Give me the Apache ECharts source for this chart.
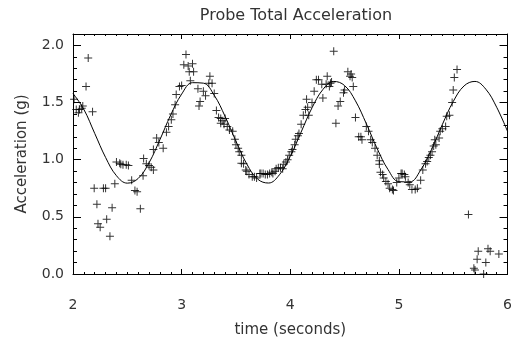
<!DOCTYPE html>
<html>
<head>
<meta charset="utf-8">
<title>Probe Total Acceleration</title>
<script src="https://cdn.jsdelivr.net/npm/echarts@6/dist/echarts.min.js"></script>
<style>
  html, body { margin: 0; padding: 0; background: #fff; }
  #chart { width: 515px; height: 347px; }
</style>
</head>
<body>
<div id="chart"></div>
<script>
// measured samples [time (s), acceleration (g)]
var samples = [
  [2.01,1.53],[2.03,1.44],[2.05,1.41],[2.06,1.44],[2.08,1.45],[2.09,1.47],[2.12,1.64],[2.14,1.89],
  [2.18,1.42],[2.195,0.75],[2.22,0.61],[2.23,0.44],[2.25,0.41],[2.28,0.75],[2.30,0.75],[2.31,0.48],
  [2.34,0.33],[2.36,0.58],[2.385,0.79],[2.40,0.98],[2.43,0.97],[2.44,0.96],[2.46,0.955],[2.49,0.955],
  [2.51,0.95],[2.54,0.82],[2.57,0.73],[2.59,0.72],[2.62,0.57],[2.645,0.86],[2.65,1.01],[2.675,0.965],
  [2.70,0.95],[2.72,0.935],[2.74,0.91],[2.74,1.09],[2.77,1.19],[2.79,1.15],[2.83,1.10],[2.86,1.24],
  [2.88,1.29],[2.905,1.35],[2.92,1.40],[2.94,1.48],[2.95,1.57],[2.98,1.64],[3.00,1.65],[3.02,1.83],
  [3.04,1.92],[3.06,1.82],[3.07,1.77],[3.08,1.69],[3.10,1.84],[3.11,1.77],[3.15,1.62],[3.16,1.47],
  [3.17,1.51],[3.20,1.60],[3.22,1.56],[3.25,1.67],[3.26,1.73],[3.28,1.67],[3.30,1.58],[3.32,1.43],
  [3.34,1.37],[3.36,1.36],[3.36,1.32],[3.38,1.34],[3.39,1.31],[3.40,1.36],[3.42,1.29],[3.44,1.26],
  [3.47,1.25],[3.49,1.18],[3.50,1.13],[3.52,1.10],[3.53,1.07],[3.55,1.04],[3.55,0.97],[3.57,0.965],
  [3.59,0.91],[3.60,0.90],[3.62,0.87],[3.65,0.85],[3.67,0.85],[3.69,0.84],[3.72,0.88],[3.73,0.88],
  [3.75,0.88],[3.77,0.87],[3.79,0.87],[3.81,0.88],[3.83,0.89],[3.84,0.88],[3.86,0.90],[3.87,0.92],
  [3.89,0.93],[3.91,0.93],[3.93,0.92],[3.94,0.96],[3.96,0.98],[3.975,1.00],[3.99,1.04],[4.01,1.07],
  [4.02,1.09],[4.04,1.13],[4.05,1.18],[4.07,1.21],[4.08,1.23],[4.10,1.31],[4.12,1.39],[4.14,1.44],
  [4.15,1.53],[4.16,1.46],[4.17,1.39],[4.20,1.50],[4.22,1.60],[4.24,1.70],[4.26,1.70],[4.29,1.66],
  [4.30,1.54],[4.33,1.66],[4.34,1.73],[4.36,1.64],[4.37,1.67],[4.38,1.68],[4.40,1.95],[4.42,1.32],
  [4.44,1.47],[4.46,1.51],[4.49,1.585],[4.50,1.61],[4.53,1.77],[4.55,1.73],[4.56,1.75],[4.57,1.72],
  [4.58,1.64],[4.60,1.37],[4.63,1.20],[4.65,1.20],[4.66,1.175],[4.70,1.29],[4.72,1.25],[4.74,1.175],
  [4.755,1.15],[4.78,1.10],[4.80,1.04],[4.82,0.99],[4.82,0.96],[4.83,0.89],[4.85,0.87],[4.86,0.84],
  [4.88,0.81],[4.90,0.79],[4.915,0.75],[4.94,0.74],[4.95,0.73],[4.98,0.80],[5.00,0.84],[5.02,0.88],
  [5.03,0.88],[5.05,0.87],[5.06,0.85],[5.085,0.80],[5.10,0.78],[5.12,0.74],[5.15,0.74],[5.17,0.75],
  [5.20,0.82],[5.22,0.91],[5.245,0.965],[5.26,0.985],[5.275,1.02],[5.29,1.04],[5.305,1.07],[5.32,1.12],
  [5.33,1.175],[5.34,1.13],[5.37,1.19],[5.38,1.25],[5.40,1.27],[5.43,1.29],[5.44,1.38],[5.465,1.39],
  [5.49,1.50],[5.50,1.61],[5.51,1.72],[5.535,1.79],[5.64,0.52],[5.69,0.05],[5.70,0.035],[5.72,0.13],
  [5.73,0.20],[5.78,0.0],[5.80,0.10],[5.82,0.22],[5.84,0.20],[5.92,0.175]
];

// fitted curve, read every 0.1 s
var fitTime = [2.0,2.1,2.2,2.3,2.4,2.5,2.6,2.7,2.8,2.9,3.0,3.1,3.2,3.3,3.4,3.5,3.6,3.7,3.8,3.9,
               4.0,4.1,4.2,4.3,4.4,4.5,4.6,4.7,4.8,4.9,5.0,5.1,5.2,5.3,5.4,5.5,5.6,5.7,5.8,5.9,6.0];
var fitAccel = [1.58,1.44,1.23,1.02,0.86,0.795,0.836,0.973,1.175,1.393,1.574,1.674,1.670,1.564,1.379,1.162,0.962,0.830,0.796,0.868,
                1.030,1.242,1.454,1.614,1.685,1.649,1.515,1.315,1.097,0.914,0.808,0.806,0.909,1.090,1.308,1.509,1.646,1.685,1.617,1.459,1.248];

var xTicks = [2, 3, 4, 5, 6];
var yTicks = [0.0, 0.5, 1.0, 1.5, 2.0];

var fitLine = [];
for (var i = 0; i < fitTime.length; i++) {
	fitLine.push([fitTime[i], fitAccel[i]]);
}

var textColor = '#333';
var fontName = 'DejaVu Sans';
// plus sign marker
var plusPath = 'path://M3.5,0H4.5V3.5H8V4.5H4.5V8H3.5V4.5H0V3.5H3.5Z';

function xAxisCfg(pos, showLabel) {
	return {
		type: 'value',
		position: pos,
		min: xTicks[0],
		max: xTicks[xTicks.length - 1],
		interval: 1,
		axisLine: { show: true, onZero: false, lineStyle: { color: '#000', width: 1 } },
		axisTick: { show: true, inside: true, length: 5, lineStyle: { color: '#000' } },
		minorTick: { show: true, splitNumber: 10, length: 2, lineStyle: { color: '#000' } },
		splitLine: { show: false },
		axisLabel: {
			show: showLabel, margin: 24, color: textColor, fontFamily: fontName, fontSize: 14
		},
		name: showLabel ? 'time (seconds)' : '',
		nameLocation: 'middle',
		nameGap: 49,
		nameTextStyle: { color: textColor, fontFamily: fontName, fontSize: 15 }
	};
}

function yAxisCfg(pos, showLabel) {
	return {
		type: 'value',
		position: pos,
		min: 0,
		max: 2.1,
		interval: 0.5,
		axisLine: { show: true, onZero: false, lineStyle: { color: '#000', width: 1 } },
		axisTick: { show: true, inside: true, length: 8, lineStyle: { color: '#000' } },
		minorTick: { show: true, splitNumber: 5, length: 4, lineStyle: { color: '#000' } },
		splitLine: { show: false },
		axisLabel: {
			show: showLabel, margin: 9, color: textColor, fontFamily: fontName, fontSize: 14,
			showMaxLabel: false,
			formatter: function(v) { return v.toFixed(1); }
		},
		name: showLabel ? 'Acceleration (g)' : '',
		nameLocation: 'middle',
		nameGap: 43,
		nameTextStyle: { color: textColor, fontFamily: fontName, fontSize: 15 }
	};
}

var chart = echarts.init(document.getElementById('chart'), null, { renderer: 'canvas' });
var option = {
	backgroundColor: '#fff',
	animation: false,
	title: {
		text: 'Probe Total Acceleration',
		left: 291,
		top: 3,
		textAlign: 'center',
		textStyle: { color: textColor, fontFamily: fontName, fontSize: 16, fontWeight: 'normal' }
	},
	grid: { left: 73, right: 6, top: 34, bottom: 73 },
	xAxis: [xAxisCfg('bottom', true), xAxisCfg('top', false)],
	yAxis: [yAxisCfg('left', true), yAxisCfg('right', false)],
	series: [
		{
			type: 'line',
			data: fitLine,
			showSymbol: false,
			smooth: 0.4,
			lineStyle: { color: '#000', width: 1 },
			z: 2
		},
		{
			type: 'scatter',
			data: samples,
			symbol: plusPath,
			symbolSize: 8,
			itemStyle: { color: '#000' },
			z: 3
		}
	]
};
chart.setOption(option);
</script>
</body>
</html>
